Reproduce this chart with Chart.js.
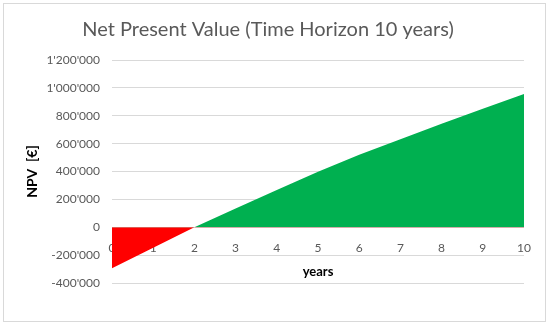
<!DOCTYPE html>
<html>
<head>
<meta charset="utf-8">
<script src="https://cdn.jsdelivr.net/npm/chart.js@4/dist/chart.umd.min.js"></script>
<style>
  html, body { margin: 0; padding: 0; background: #fff; }
  #wrap { width: 550px; height: 327px; position: relative; }
</style>
</head>
<body>
<div id="wrap"><canvas id="myChart" width="550" height="327"></canvas></div>
<script>
const years = [0, 1, 2, 3, 4, 5, 6, 7, 8, 9, 10];
const npv = [-295000, -147000, 0, 135000, 268000, 398000, 520000, 632000, 742000, 850000, 956000];
const yMin = -400000;
const yMax = 1200000;
const yStep = 200000;

function fmt(v) {
    const s = String(Math.abs(v)).replace(/\B(?=(\d{3})+(?!\d))/g, "'");
    return v < 0 ? '-' + s : s;
}

const frame = {
    id: 'frame',
    beforeDraw(chart) {
        const ctx = chart.ctx;
        ctx.save();
        ctx.fillStyle = '#fff';
        ctx.fillRect(0, 0, chart.width, chart.height);
        ctx.strokeStyle = '#d9d9d9';
        ctx.lineWidth = 1;
        ctx.strokeRect(3.5, 3.5, 542, 318);
        ctx.restore();
    }
};

const canvasContext = document.getElementById('myChart').getContext('2d');
const myChart = new Chart(canvasContext, {
    type: 'line',
    data: {
        datasets: [{
            label: 'NPV',
            data: years.map((x, i) => ({ x: x, y: npv[i] })),
            borderWidth: 0,
            borderColor: 'rgba(0,0,0,0)',
            pointRadius: 0,
            tension: 0,
            fill: { target: 'origin', above: '#00b050', below: '#ff0000' }
        }]
    },
    options: {
        responsive: false,
        animation: false,
        layout: { padding: { left: 12, right: 26, top: 0, bottom: 44 } },
        plugins: {
            legend: { display: false },
            tooltip: { enabled: false },
            title: {
                display: true,
                text: 'Net Present Value (Time Horizon 10 years)',
                color: '#595959',
                font: { family: 'Lato', size: 20, weight: 'normal' },
                padding: { top: 18, bottom: 18 }
            }
        },
        scales: {
            x: {
                type: 'linear',
                min: 0,
                max: 10,
                position: { y: 0 },
                grid: { display: false },
                border: { display: false },
                ticks: {
                    stepSize: 1,
                    maxRotation: 0,
                    padding: 6,
                    color: '#595959',
                    font: { family: 'Lato', size: 12 }
                },
                title: {
                    display: true,
                    text: 'years',
                    color: '#000',
                    font: { family: 'Lato', size: 13, weight: 'bold' },
                    padding: { top: 2, bottom: 0 }
                }
            },
            y: {
                min: yMin,
                max: yMax,
                afterFit(scale) { scale.width = 100; },
                grid: { color: '#d9d9d9', drawTicks: false },
                border: { display: false },
                ticks: {
                    stepSize: yStep,
                    padding: 12,
                    color: '#595959',
                    font: { family: 'Lato', size: 12 },
                    callback: (v) => fmt(v)
                },
                title: {
                    display: true,
                    text: 'NPV  [€]',
                    color: '#000',
                    font: { family: 'Lato', size: 14, weight: 'bold' },
                    padding: { top: 12, bottom: 0 }
                }
            }
        }
    },
    plugins: [frame]
});
</script>
</body>
</html>
